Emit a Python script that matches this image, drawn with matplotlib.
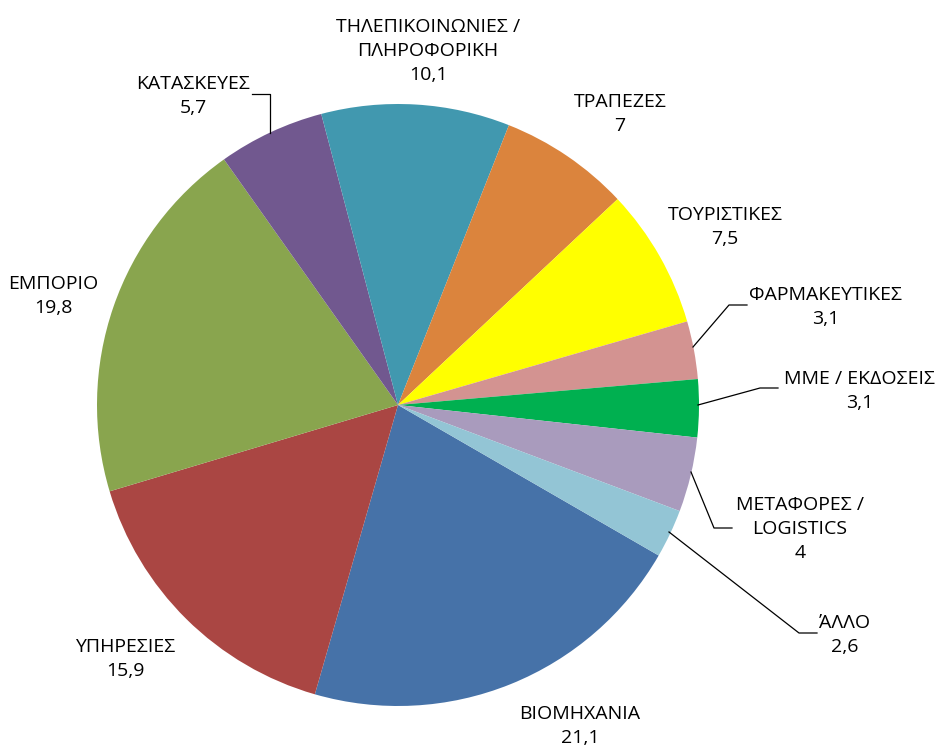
import matplotlib.pyplot as plt

plt.rcParams['font.family'] = ['Open Sans', 'DejaVu Sans']

# data, clockwise from the blue slice
categories = ['ΒΙΟΜΗΧΑΝΙΑ', 'ΥΠΗΡΕΣΙΕΣ', 'ΕΜΠΟΡΙΟ', 'ΚΑΤΑΣΚΕΥΕΣ',
              'ΤΗΛΕΠΙΚΟΙΝΩΝΙΕΣ /\nΠΛΗΡΟΦΟΡΙΚΗ', 'ΤΡΑΠΕΖΕΣ', 'ΤΟΥΡΙΣΤΙΚΕΣ',
              'ΦΑΡΜΑΚΕΥΤΙΚΕΣ', 'ΜΜΕ / ΕΚΔΟΣΕΙΣ', 'ΜΕΤΑΦΟΡΕΣ /\nLOGISTICS', 'ΆΛΛΟ']
values = [21.1, 15.9, 19.8, 5.7, 10.1, 7, 7.5, 3.1, 3.1, 4, 2.6]
value_labels = ['21,1', '15,9', '19,8', '5,7', '10,1', '7', '7,5', '3,1', '3,1', '4', '2,6']
colors = ['#4672A8', '#AA4643', '#89A54E', '#71588F', '#4198AF', '#DB843D',
          '#FFFF00', '#D39391', '#00B050', '#A99BBD', '#93C5D5']

W, H = 940, 751
fig = plt.figure(figsize=(9.4, 7.51), dpi=100)
ax = fig.add_axes([0, 0, 1, 1])

cx, cy, r = 398, H - 405, 301
ax.pie(values, colors=colors, startangle=-30, counterclock=False,
       center=(cx, cy), radius=r, frame=True,
       wedgeprops=dict(linewidth=0))
ax.set_xlim(0, W)
ax.set_ylim(0, H)
ax.set_aspect('equal')
ax.axis('off')

# label block centres (image pixels)
label_pos = [(580, 726), (125, 659), (53, 296), (193, 96), (428, 51),
             (620, 114), (725, 227), (826, 307), (860, 391), (800, 529), (845, 635)]

for name, val, (x, y) in zip(categories, value_labels, label_pos):
    ax.text(x, H - y, name + '\n' + val, ha='center', va='center',
            fontsize=14, linespacing=1.45, color='black')

# leader lines
leaders = [
    [(252, 94), (270, 94), (270, 133)],
    [(693, 347), (729, 305), (747, 305)],
    [(698, 405), (760, 388), (778, 388)],
    [(691, 472), (714, 528), (732, 528)],
    [(669, 532), (799, 633), (817, 633)],
]
for pts in leaders:
    xs = [p[0] for p in pts]
    ys = [H - p[1] for p in pts]
    ax.plot(xs, ys, color='black', linewidth=0.9)

fig.savefig('out.png', dpi=100)
